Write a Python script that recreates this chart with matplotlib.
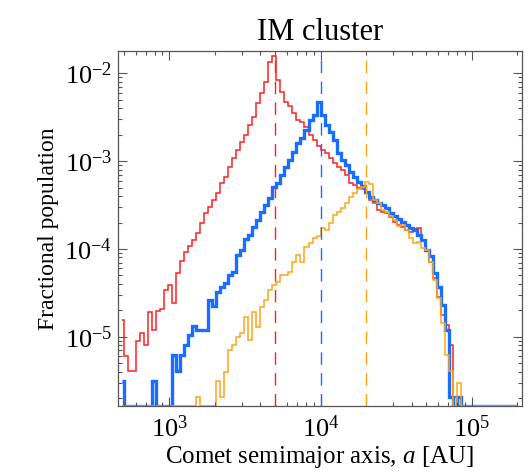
import numpy as np
import matplotlib
matplotlib.use("Agg")
import matplotlib.pyplot as plt

plt.rcParams['font.family'] = ['Liberation Serif', 'DejaVu Serif']
plt.rcParams['mathtext.fontset'] = 'custom'
plt.rcParams['mathtext.rm'] = 'Liberation Serif'
plt.rcParams['mathtext.it'] = 'Liberation Serif:italic'

# log-spaced bins starting at 500 AU (first entry is a half-width bin)
bin_start = 500.0
dlog = 0.02655
bin_index = np.concatenate([[-0.5], np.arange(0, 99)])
a_edges = bin_start * 10 ** (dlog * bin_index)

# fractional population per bin (0 = empty bin)
red_vals = [
    1.55e-5,
    6.0e-6, 4.1e-6, 4.1e-6, 9.0e-6, 1.11e-5, 8.0e-6, 1.93e-5, 1.21e-5, 1.98e-5, 2.05e-5,
    3.4e-5, 3.9e-5, 2.4e-5, 5.3e-5, 7.3e-5, 9.3e-5, 1.08e-4, 1.26e-4, 1.52e-4, 1.97e-4,
    2.57e-4, 3.0e-4, 3.6e-4, 4.3e-4, 5.6e-4, 6.6e-4, 8.6e-4, 1.08e-3, 1.34e-3, 1.66e-3,
    1.98e-3, 2.58e-3, 3.2e-3, 4.55e-3, 5.9e-3, 8.0e-3, 1.35e-2, 1.57e-2, 8.5e-3, 6.2e-3,
    4.75e-3, 4.25e-3, 3.5e-3, 2.94e-3, 2.79e-3, 2.44e-3, 1.98e-3, 1.74e-3, 1.49e-3, 1.34e-3,
    1.24e-3, 1.08e-3, 9.5e-4, 8.6e-4, 7.9e-4, 7.0e-4, 5.6e-4, 5.3e-4, 4.94e-4, 4.8e-4,
    4.33e-4, 3.6e-4, 3.33e-4, 2.77e-4, 2.63e-4, 2.57e-4, 2.31e-4, 2.02e-4, 1.87e-4, 1.78e-4,
    1.64e-4, 1.56e-4, 1.69e-4, 1.72e-4, 1.26e-4, 9.7e-5, 7.1e-5, 4.7e-5, 2.83e-5, 1.77e-5,
    1.36e-5, 8.0e-6, 2.07e-6, 0, 0, 0, 0, 0, 0, 0,
    0, 0, 0, 0, 0, 0, 0, 0,
]
blue_vals = [
    3.15e-6,
    0, 0, 0, 0, 0, 0, 0, 3.15e-6, 0, 0,
    0, 0, 6.2e-6, 4.1e-6, 6.2e-6, 8.0e-6, 1.05e-5, 1.32e-5, 1.19e-5, 1.19e-5,
    1.19e-5, 2.62e-5, 2.24e-5, 3.23e-5, 3.68e-5, 4.1e-5, 5.05e-5, 5.5e-5, 8.5e-5, 9.7e-5,
    1.3e-4, 1.44e-4, 1.78e-4, 2.13e-4, 2.63e-4, 3.16e-4, 3.77e-4, 5.07e-4, 5.6e-4, 6.95e-4,
    8.63e-4, 1.03e-3, 1.28e-3, 1.6e-3, 1.82e-3, 2.26e-3, 2.94e-3, 3.35e-3, 4.75e-3, 3.35e-3,
    2.58e-3, 2.16e-3, 1.74e-3, 1.23e-3, 1.03e-3, 9.0e-4, 7.6e-4, 6.64e-4, 5.82e-4, 5.2e-4,
    4.48e-4, 3.93e-4, 3.6e-4, 3.36e-4, 3.16e-4, 2.92e-4, 2.57e-4, 2.37e-4, 2.19e-4, 2.02e-4,
    1.87e-4, 1.73e-4, 1.64e-4, 1.44e-4, 1.26e-4, 9.7e-5, 8.3e-5, 5.3e-5, 3.68e-5, 2.3e-5,
    1.19e-5, 2.07e-6, 0, 2.07e-6, 0, 0, 0, 0, 0, 0,
    0, 0, 0, 0, 0, 0, 0, 0,
]
orange_vals = [
    0,
    0, 0, 0, 0, 0, 0, 0, 0, 0, 0,
    0, 0, 0, 0, 0, 0, 0, 0, 2.07e-6, 0,
    0, 0, 0, 3.1e-6, 2.07e-6, 4.0e-6, 7.05e-6, 8.0e-6, 1.0e-5, 1.1e-5,
    1.69e-5, 9.2e-6, 1.93e-5, 1.3e-5, 2.2e-5, 2.62e-5, 3.4e-5, 3.9e-5, 4.2e-5, 5.05e-5,
    5.05e-5, 5.5e-5, 7.15e-5, 8.5e-5, 7.2e-5, 1.06e-4, 1.16e-4, 1.32e-4, 1.4e-4, 1.72e-4,
    1.64e-4, 1.96e-4, 2.43e-4, 2.65e-4, 2.9e-4, 3.31e-4, 3.93e-4, 4.3e-4, 4.8e-4, 5.1e-4,
    5.78e-4, 5.5e-4, 3.6e-4, 3.33e-4, 2.77e-4, 2.63e-4, 2.37e-4, 2.13e-4, 1.82e-4, 1.87e-4,
    1.64e-4, 1.33e-4, 1.17e-4, 1.2e-4, 1.02e-4, 9.7e-5, 7.1e-5, 4.4e-5, 2.75e-5, 1.43e-5,
    6.2e-6, 4.1e-6, 0, 3.0e-6, 0, 0, 0, 0, 0, 0,
    0, 0, 0, 0, 0, 0, 0, 0,
]

# median semimajor axes marked with dashed lines
peak_a = [5000, 1e4, 2e4]

RED = '#ff2020'
BLUE = '#1a6eff'
ORANGE = '#ffa515'

x_min, x_max = 455, 2.16e5
y_min, y_max = 1.63e-6, 1.795e-2

fig = plt.figure(figsize=(5.32, 4.71), dpi=100)
ax = fig.add_axes([0.2212, 0.138, 0.7606, 0.7537])

for vals, color, lw in [(red_vals, RED, 1.1), (blue_vals, BLUE, 2.4), (orange_vals, ORANGE, 1.1)]:
    v = np.array(vals, dtype=float)
    v = np.where(v > 0, v, y_min)
    ax.stairs(v, a_edges, baseline=None, color=color, linewidth=lw)

for a, color in zip(peak_a, [RED, BLUE, ORANGE]):
    ax.axvline(a, color=color, linewidth=1.0, linestyle=(0, (9, 6)))

ax.set_xscale('log')
ax.set_yscale('log')
ax.set_xlim(x_min, x_max)
ax.set_ylim(y_min, y_max)

ax.tick_params(which='both', direction='in', top=True, right=True, color='#555555')
ax.tick_params(which='major', length=6.5, width=0.8, labelsize=19)
ax.tick_params(axis='y', which='major', pad=4)
ax.tick_params(axis='x', which='major', pad=7)
ax.tick_params(which='minor', length=3.2, width=0.8)
for s in ax.spines.values():
    s.set_color('#555555')
    s.set_linewidth(0.9)

ax.set_title('IM cluster', fontsize=22, pad=8)
ax.set_xlabel('Comet semimajor axis, $a$ [AU]', fontsize=18, labelpad=1)
ax.set_ylabel('Fractional population', fontsize=17, labelpad=4)

fig.savefig('out.png', dpi=100)
